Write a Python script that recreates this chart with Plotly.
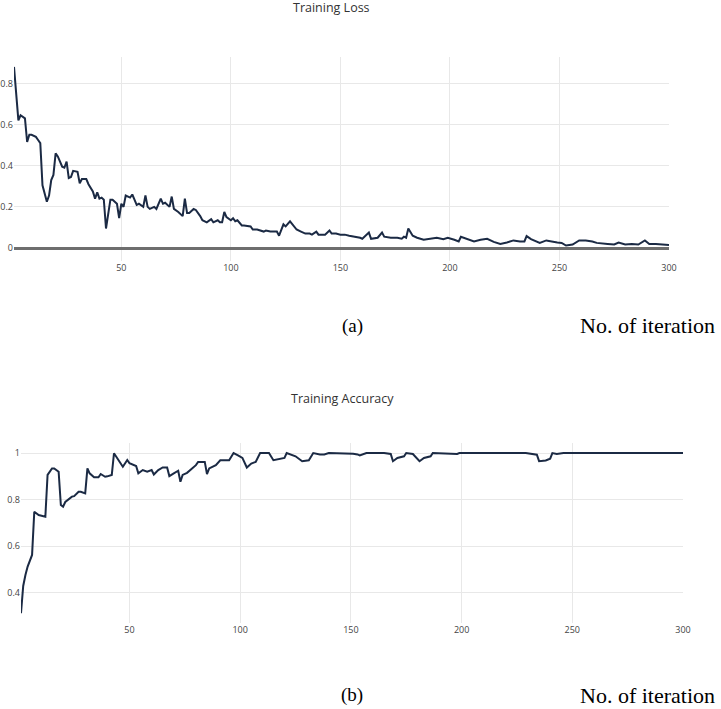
import plotly.graph_objects as go

# ---- Training loss ----
loss_iter = [1, 3, 4, 5, 6, 7, 8, 9, 11, 12, 13, 14, 15, 16, 17, 18, 19, 20, 21, 22,
             23, 24, 25, 26, 27, 28, 30, 31, 32, 34, 35, 37, 38, 39, 40, 41, 42, 43, 45, 46,
             48, 49, 50, 51, 52, 54, 55, 56, 57, 58, 60, 61, 62, 63, 65, 66, 68, 69, 70, 72,
             73, 74, 76, 78, 79, 80, 81, 83, 84, 86, 87, 89, 91, 92, 94, 95, 96, 97, 98, 100,
             101, 102, 103, 105, 106, 109, 110, 112, 115, 116, 118, 121, 122, 124, 125, 127, 129, 130, 132, 134,
             136, 137, 139, 140, 143, 145, 146, 148, 150, 152, 154, 157, 159, 160, 163, 164, 167, 169, 170, 173,
             176, 178, 179, 180, 181, 183, 185, 188, 191, 194, 197, 199, 202, 204, 205, 208, 211, 214, 217, 220,
             223, 226, 229, 232, 234, 235, 237, 241, 244, 249, 251, 253, 256, 259, 262, 265, 267, 272, 275, 277,
             280, 283, 286, 289, 291, 294, 298, 300]
loss_val = [0.88, 0.62, 0.645, 0.635, 0.63, 0.515, 0.55, 0.55, 0.54, 0.525, 0.51, 0.305, 0.265, 0.225, 0.255, 0.33, 0.355, 0.46, 0.445, 0.42,
            0.395, 0.39, 0.42, 0.34, 0.345, 0.375, 0.37, 0.315, 0.335, 0.335, 0.31, 0.275, 0.24, 0.27, 0.24, 0.245, 0.235, 0.095, 0.235, 0.235,
            0.215, 0.145, 0.215, 0.2, 0.255, 0.245, 0.26, 0.235, 0.21, 0.215, 0.2, 0.255, 0.2, 0.19, 0.2, 0.19, 0.24, 0.215, 0.22, 0.2,
            0.25, 0.19, 0.175, 0.155, 0.24, 0.17, 0.17, 0.19, 0.185, 0.155, 0.135, 0.125, 0.14, 0.125, 0.135, 0.125, 0.125, 0.175, 0.15, 0.135,
            0.145, 0.13, 0.135, 0.11, 0.11, 0.105, 0.09, 0.09, 0.08, 0.085, 0.08, 0.08, 0.06, 0.115, 0.105, 0.13, 0.105, 0.09, 0.08, 0.07,
            0.07, 0.065, 0.08, 0.065, 0.065, 0.085, 0.07, 0.07, 0.065, 0.065, 0.06, 0.055, 0.05, 0.045, 0.075, 0.045, 0.05, 0.075, 0.055, 0.05,
            0.05, 0.045, 0.055, 0.05, 0.095, 0.06, 0.05, 0.04, 0.045, 0.05, 0.043, 0.05, 0.04, 0.032, 0.055, 0.045, 0.032, 0.04, 0.045, 0.03,
            0.02, 0.027, 0.037, 0.032, 0.032, 0.058, 0.043, 0.025, 0.037, 0.027, 0.025, 0.012, 0.017, 0.037, 0.037, 0.032, 0.025, 0.02, 0.017, 0.027,
            0.017, 0.02, 0.017, 0.037, 0.02, 0.02, 0.017, 0.015]

# ---- Training accuracy ----
acc_iter = [1, 2, 3, 4, 6, 7, 9, 12, 13, 15, 16, 18, 19, 20, 21, 23, 24, 25, 27, 28,
            30, 31, 32, 34, 36, 37, 39, 40, 42, 43, 45, 47, 49, 50, 53, 54, 56, 58, 60, 61,
            63, 65, 67, 68, 70, 72, 73, 74, 76, 78, 80, 81, 84, 85, 86, 89, 91, 95, 97, 99,
            101, 103, 105, 107, 109, 113, 115, 120, 121, 125, 128, 131, 133, 136, 138, 140, 150, 151, 153, 154,
            157, 165, 168, 169, 171, 174, 175, 178, 181, 183, 186, 187, 198, 199, 229, 234, 235, 238, 240, 241,
            243, 246, 300]
acc_val = [0.313, 0.43, 0.477, 0.513, 0.563, 0.748, 0.734, 0.727, 0.906, 0.934, 0.934, 0.92, 0.777, 0.77, 0.79, 0.806, 0.813, 0.815, 0.834, 0.834,
           0.827, 0.934, 0.913, 0.896, 0.896, 0.91, 0.898, 0.9, 0.906, 0.999, 0.97, 0.941, 0.97, 0.956, 0.944, 0.913, 0.927, 0.92, 0.927, 0.908,
           0.927, 0.938, 0.938, 0.901, 0.913, 0.924, 0.877, 0.906, 0.915, 0.93, 0.948, 0.962, 0.962, 0.91, 0.934, 0.948, 0.969, 0.969, 1.0, 0.99,
           0.979, 0.938, 0.955, 0.962, 1.0, 1.0, 0.969, 0.979, 1.0, 0.986, 0.965, 0.969, 1.0, 0.994, 0.994, 1.0, 1.0, 0.997, 0.994, 0.99,
           1.0, 1.0, 0.996, 0.965, 0.979, 0.986, 1.0, 0.996, 0.965, 0.979, 0.986, 1.0, 0.996, 1.0, 1.0, 0.993, 0.965, 0.968, 0.976, 1.0,
           0.996, 1.0, 1.0]

x_ticks = [50, 100, 150, 200, 250, 300]
loss_ticks = [0, 0.2, 0.4, 0.6, 0.8]
acc_ticks = [0.4, 0.6, 0.8, 1]

W, H = 721, 709
LINE = "#1b2a44"
GRID = "#e8e8e8"
TICKFONT = dict(family="Open Sans", size=9, color="#444")

fig = go.Figure()
fig.add_trace(go.Scatter(x=loss_iter, y=loss_val, mode="lines",
                         line=dict(color=LINE, width=2), xaxis="x", yaxis="y", showlegend=False))
fig.add_trace(go.Scatter(x=acc_iter, y=acc_val, mode="lines",
                         line=dict(color=LINE, width=2), xaxis="x2", yaxis="y2", showlegend=False))

def px_x(p):
    return p / W

def px_y(p):
    return 1 - p / H

fig.update_layout(
    width=W, height=H,
    margin=dict(l=0, r=0, t=0, b=0, autoexpand=False),
    paper_bgcolor="white", plot_bgcolor="white",
    xaxis=dict(domain=[px_x(14), px_x(669)], range=[1, 300], tickvals=x_ticks,
               showgrid=True, gridcolor=GRID, gridwidth=1, zeroline=False, automargin=False,
               showline=False, ticks="", tickfont=TICKFONT, anchor="y"),
    yaxis=dict(domain=[px_y(261), px_y(57)], range=[-0.063, 0.928], tickvals=loss_ticks,
               ticktext=["0", "0.2", "0.4", "0.6", "0.8"], automargin=False,
               showgrid=True, gridcolor=GRID, gridwidth=1,
               zeroline=True, zerolinecolor="#6e6e6e", zerolinewidth=3,
               showline=False, ticks="", tickfont=TICKFONT, anchor="x"),
    xaxis2=dict(domain=[px_x(21), px_x(683)], range=[1, 300], tickvals=x_ticks,
                showgrid=True, gridcolor=GRID, gridwidth=1, zeroline=False, automargin=False,
                showline=False, ticks="", tickfont=TICKFONT, anchor="y2"),
    yaxis2=dict(domain=[px_y(623), px_y(443)], range=[0.271, 1.043], tickvals=acc_ticks,
                ticktext=["0.4", "0.6", "0.8", "1"], automargin=False,
                showgrid=True, gridcolor=GRID, gridwidth=1, zeroline=False,
                showline=False, ticks="", tickfont=TICKFONT, anchor="x2"),
    annotations=[
        dict(text="Training Loss", x=px_x(331), y=px_y(8), xref="paper", yref="paper",
             showarrow=False, xanchor="center", yanchor="middle",
             font=dict(family="Open Sans", size=12.5, color="#333")),
        dict(text="Training Accuracy", x=px_x(342), y=px_y(398), xref="paper", yref="paper",
             showarrow=False, xanchor="center", yanchor="middle",
             font=dict(family="Open Sans", size=12.5, color="#333")),
        dict(text="(a)", x=px_x(352), y=px_y(326), xref="paper", yref="paper",
             showarrow=False, xanchor="center", yanchor="middle",
             font=dict(family="Liberation Serif", size=19, color="#000")),
        dict(text="No. of iteration", x=px_x(579), y=px_y(326), xref="paper", yref="paper",
             showarrow=False, xanchor="left", yanchor="middle", borderpad=0,
             font=dict(family="Liberation Serif", size=22, color="#000")),
        dict(text="(b)", x=px_x(352), y=px_y(695), xref="paper", yref="paper",
             showarrow=False, xanchor="center", yanchor="middle",
             font=dict(family="Liberation Serif", size=19, color="#000")),
        dict(text="No. of iteration", x=px_x(579), y=px_y(695), xref="paper", yref="paper",
             showarrow=False, xanchor="left", yanchor="middle", borderpad=0,
             font=dict(family="Liberation Serif", size=22, color="#000")),
    ],
)

fig.write_html("out.html", config={"displayModeBar": False},
               post_script="document.body.style.margin='0';document.body.style.overflow='hidden';")
